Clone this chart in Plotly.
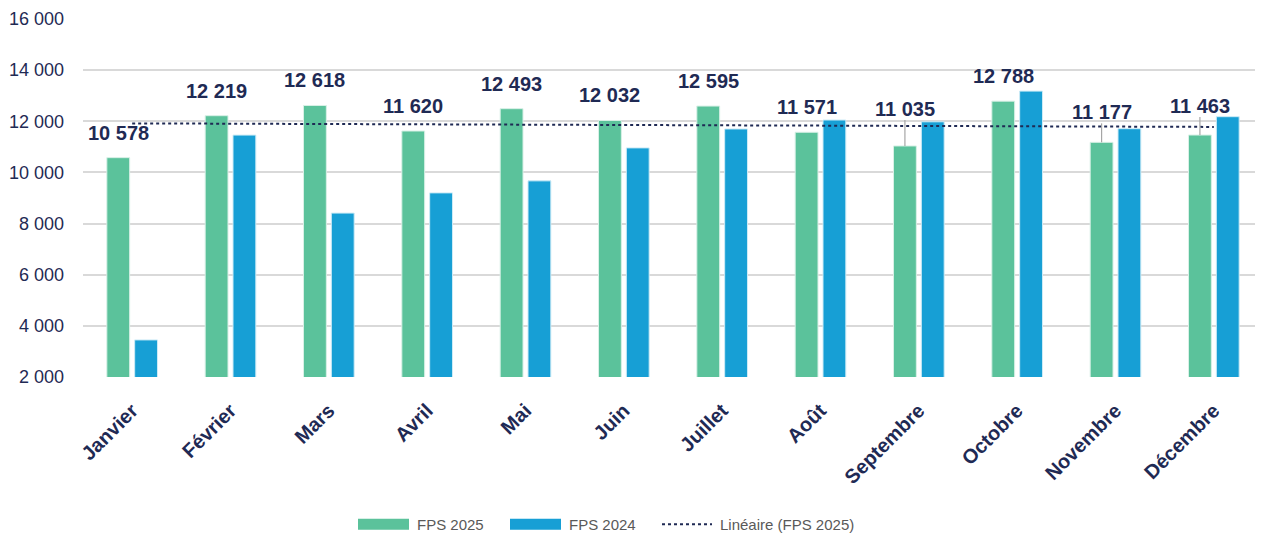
import numpy as np
import plotly.graph_objects as go

# ---- data ----
months = ["Janvier", "Février", "Mars", "Avril", "Mai", "Juin", "Juillet",
          "Août", "Septembre", "Octobre", "Novembre", "Décembre"]
fps_2025 = [10578, 12219, 12618, 11620, 12493, 12032, 12595, 11571, 11035, 12788, 11177, 11463]
fps_2024 = [3450, 11460, 8410, 9200, 9670, 10960, 11700, 12050, 11980, 13180, 11710, 12180]
y_ticks = [2000, 4000, 6000, 8000, 10000, 12000, 14000, 16000]
y_tick_text = ["2 000", "4 000", "6 000", "8 000", "10 000", "12 000", "14 000", "16 000"]

# ---- styles ----
GREEN = "#5BC29B"
BLUE = "#179FD5"
NAVY = "#1F2A54"
GREY_TXT = "#595959"
FONT = "Liberation Sans, Arial, sans-serif"
OFF = 8  # page body margin
W, H = 1263 - OFF, 536 - OFF
ML, MR, MT = 83 - OFF, 0, 19 - OFF
PLOT_BOTTOM = 377.5 - OFF
MB = H - PLOT_BOTTOM
BARGAP, GROUPGAP = 0.434, 0.18
label_lift_px = {"Septembre": 37, "Novembre": 30, "Décembre": 29}  # others default
DEFAULT_LIFT = 25

def fmt(v):
    return f"{v:,}".replace(",", " ")

idx = np.arange(len(months))
slope, intercept = np.polyfit(idx, fps_2025, 1)
trend = slope * idx + intercept

fig = go.Figure()
fig.add_trace(go.Bar(x=idx, y=fps_2025, name="FPS 2025", marker_color=GREEN,
                     marker_line=dict(color="#D8F0E6", width=1), showlegend=False))
fig.add_trace(go.Bar(x=idx, y=fps_2024, name="FPS 2024", marker_color=BLUE,
                     marker_line=dict(color="#CDEBF6", width=1), showlegend=False))
fig.add_trace(go.Scatter(x=idx, y=trend, mode="lines", name="Linéaire (FPS 2025)",
                         line=dict(color=NAVY, width=2, dash="dot"), showlegend=False,
                         hoverinfo="skip"))

slot = (1 - BARGAP) / 2
green_off = -slot / 2
px_per_unit_y = (H - MT - MB) / (16000 - 2000)

annotations = []
shapes = []
for i, (m, v) in enumerate(zip(months, fps_2025)):
    lift = label_lift_px.get(m, DEFAULT_LIFT)
    annotations.append(dict(x=i + green_off, y=v, xref="x", yref="y", text=f"<b>{fmt(v)}</b>",
                            showarrow=False, yanchor="middle", yshift=lift,
                            font=dict(family=FONT, size=20, color=NAVY)))
    if m in label_lift_px:
        y_top = v + (lift - 11) / px_per_unit_y
        shapes.append(dict(type="line", xref="x", yref="y", x0=i + green_off, x1=i + green_off,
                           y0=v, y1=y_top, line=dict(color="#A6A6A6", width=1.2)))

# ---- custom legend (reference page-pixel helpers) ----
def px_x(p):
    return (p - OFF - ML) / (W - ML - MR)

def px_y(p):
    return (H - MB - (p - OFF)) / (H - MT - MB)

leg_y = 525
legend_items = [
    ("bar", GREEN, 358, 409, "FPS 2025", 415),
    ("bar", BLUE, 510, 561, "FPS 2024", 567),
    ("dot", NAVY, 662, 712, "Linéaire (FPS 2025)", 718),
]
for kind, col, x0, x1, txt, tx in legend_items:
    if kind == "bar":
        shapes.append(dict(type="rect", xref="paper", yref="paper",
                           x0=px_x(x0), x1=px_x(x1), y0=px_y(leg_y + 5.5), y1=px_y(leg_y - 5.5),
                           fillcolor=col, line=dict(width=0)))
    else:
        shapes.append(dict(type="line", xref="paper", yref="paper",
                           x0=px_x(x0), x1=px_x(x1), y0=px_y(leg_y), y1=px_y(leg_y),
                           line=dict(color=col, width=2, dash="dot")))
    annotations.append(dict(x=px_x(tx), y=px_y(leg_y), xref="paper", yref="paper", text=txt,
                            showarrow=False, xanchor="left", yanchor="middle",
                            font=dict(family=FONT, size=15, color=GREY_TXT)))

fig.update_layout(
    width=W, height=H,
    margin=dict(l=ML, r=MR, t=MT, b=MB),
    paper_bgcolor="white", plot_bgcolor="white",
    barmode="group", bargap=BARGAP, bargroupgap=GROUPGAP,
    annotations=annotations, shapes=shapes,
    showlegend=False,
    font=dict(family=FONT, color=NAVY),
)
fig.update_xaxes(tickmode="array", tickvals=idx, ticktext=[f"<b>{m}</b>" for m in months],
                 tickangle=-45, range=[-0.5, len(months) - 0.5],
                 tickfont=dict(family=FONT, size=20, color=NAVY),
                 showgrid=False, zeroline=False, showline=False, ticks="", ticklabelstandoff=17)
fig.update_yaxes(range=[2000, 16000], tickvals=y_ticks, ticktext=y_tick_text,
                 tickfont=dict(family=FONT, size=18, color=NAVY),
                 showgrid=True, gridcolor="#D9D9D9", gridwidth=1.5, zeroline=False,
                 showline=False, ticks="", ticklabelstandoff=18)

fig.write_html("out.html")
